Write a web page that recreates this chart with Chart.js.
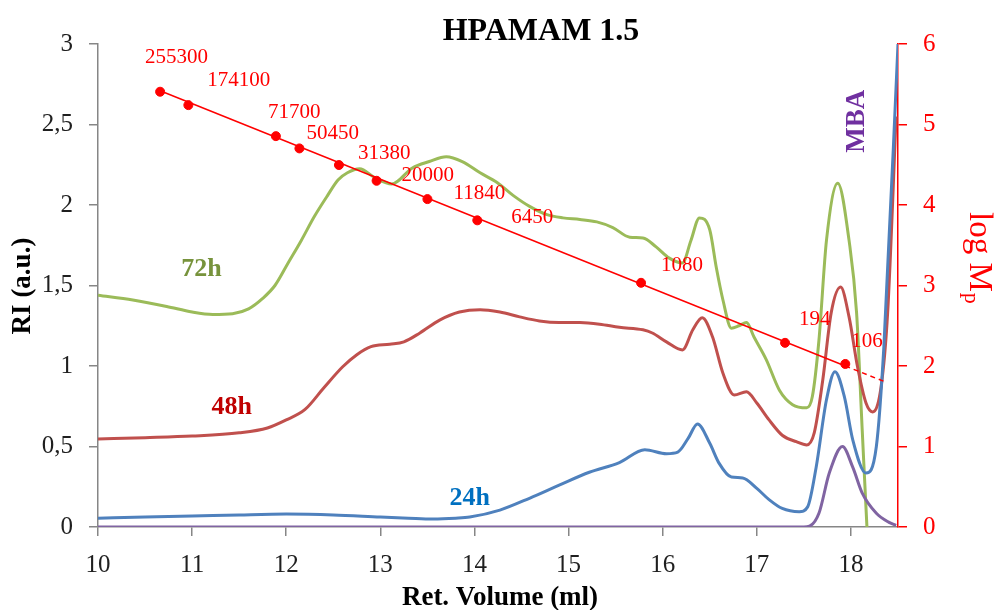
<!DOCTYPE html>
<html>
<head>
<meta charset="utf-8">
<script src="https://cdn.jsdelivr.net/npm/chart.js@4"></script>
<style>
    body { margin: 0; background: #fff; }
    #wrap { width: 998px; height: 610px; }
</style>
</head>
<body>
<div id="wrap"><canvas id="gpc-chart" width="998" height="610"></canvas></div>
<script>
// Retention volumes (ml) and RI signal for each reaction time
var vol72 = [10.00, 10.37, 10.73, 11.00, 11.22, 11.43, 11.60, 11.75, 11.88, 12.02, 12.16, 12.30, 12.44, 12.55, 12.65, 12.78, 12.94, 13.12, 13.34, 13.52, 13.70, 13.87, 14.06, 14.24, 14.41, 14.59, 14.77, 14.94, 15.12, 15.30, 15.47, 15.65, 15.79, 15.93, 16.07, 16.21, 16.30, 16.39, 16.50, 16.57, 16.64, 16.73, 16.81, 16.89, 16.97, 17.10, 17.24, 17.38, 17.53, 17.59, 17.66, 17.74, 17.86, 17.98, 18.06, 18.12, 18.17, 18.20];
var ri72 = [1.44, 1.41, 1.37, 1.335, 1.32, 1.325, 1.355, 1.42, 1.50, 1.64, 1.78, 1.93, 2.06, 2.155, 2.20, 2.225, 2.17, 2.13, 2.23, 2.27, 2.30, 2.27, 2.20, 2.14, 2.06, 1.99, 1.94, 1.92, 1.91, 1.895, 1.86, 1.80, 1.795, 1.74, 1.67, 1.64, 1.78, 1.92, 1.845, 1.61, 1.41, 1.235, 1.25, 1.27, 1.18, 1.04, 0.85, 0.76, 0.74, 0.81, 1.16, 1.78, 2.135, 1.78, 1.33, 0.60, 0.0, -0.3];

var vol48 = [10.00, 10.50, 11.00, 11.50, 11.80, 12.00, 12.20, 12.40, 12.60, 12.75, 12.90, 13.10, 13.25, 13.42, 13.63, 13.84, 14.06, 14.27, 14.48, 14.69, 14.90, 15.12, 15.33, 15.54, 15.79, 15.89, 16.04, 16.21, 16.32, 16.42, 16.53, 16.64, 16.76, 16.89, 17.00, 17.13, 17.27, 17.42, 17.53, 17.61, 17.70, 17.79, 17.89, 17.98, 18.07, 18.16, 18.23, 18.32, 18.39, 18.48];
var ri48 = [0.547, 0.555, 0.565, 0.585, 0.615, 0.665, 0.73, 0.865, 0.995, 1.07, 1.12, 1.135, 1.15, 1.205, 1.285, 1.335, 1.35, 1.335, 1.305, 1.28, 1.27, 1.27, 1.26, 1.24, 1.225, 1.205, 1.15, 1.10, 1.225, 1.30, 1.18, 0.955, 0.82, 0.84, 0.77, 0.665, 0.57, 0.53, 0.51, 0.585, 0.91, 1.33, 1.49, 1.305, 0.995, 0.77, 0.715, 0.87, 1.33, 2.55];

var vol24 = [10.00, 10.50, 11.00, 11.50, 12.00, 12.50, 13.00, 13.30, 13.56, 13.80, 13.95, 14.27, 14.59, 14.90, 15.22, 15.54, 15.81, 16.04, 16.16, 16.27, 16.37, 16.50, 16.60, 16.73, 16.85, 17.00, 17.13, 17.27, 17.45, 17.54, 17.63, 17.74, 17.83, 17.93, 18.02, 18.16, 18.27, 18.35, 18.50];
var ri24 = [0.055, 0.062, 0.068, 0.075, 0.08, 0.075, 0.062, 0.055, 0.05, 0.055, 0.062, 0.105, 0.18, 0.26, 0.34, 0.40, 0.48, 0.455, 0.465, 0.55, 0.64, 0.52, 0.395, 0.31, 0.305, 0.24, 0.17, 0.115, 0.095, 0.125, 0.37, 0.79, 0.965, 0.81, 0.54, 0.335, 0.50, 1.12, 3.0];

var volMBA = [10.00, 17.50, 17.56, 17.66, 17.77, 17.91, 18.02, 18.12, 18.27, 18.40, 18.48];
var riMBA = [0, 0, 0.005, 0.085, 0.335, 0.50, 0.37, 0.21, 0.085, 0.03, 0.01];

// Calibration standards: retention volume and peak molar mass
var calVolume = [10.66, 10.96, 11.89, 12.14, 12.56, 12.96, 13.50, 14.03, 15.77, 17.30, 17.94];
var calMass = [255300, 174100, 71700, 50450, 31380, 20000, 11840, 6450, 1080, 194, 106];

// Calibration trend line (log Mp), last piece is the extrapolation
var fitVolume = [10.66, 17.94, 18.37];
var fitLogM = [5.42, 2.00, 1.80];

// Axis ticks
var volTicks = [10, 11, 12, 13, 14, 15, 16, 17, 18];
var riTicks = [0, 0.5, 1, 1.5, 2, 2.5, 3];
var logTicks = [0, 1, 2, 3, 4, 5, 6];

// label offsets (px) for the molar mass tags, relative to their points
var tagShift = [[-15, -34], [19, -25], [-8, -24], [7, -15], [19, -12], [25, -5], [26, -6], [34, -3], [20, -17], [14, -23], [6, -22]];

var curveTags = [
    { text: '72h', x: 11.10, y: 1.60, color: '#77933C' },
    { text: '48h', x: 11.42, y: 0.745, color: '#C00000' },
    { text: '24h', x: 13.95, y: 0.18, color: '#0070C0' },
];

function pairs(xs, ys) {
    return xs.map(function (v, i) { return { x: v, y: ys[i] }; });
}

var serif = '"Liberation Serif", "Times New Roman", serif';

var textPlugin = {
    id: 'gpcText',
    afterDatasetsDraw: function (chart) {
        var ctx = chart.ctx;
        var x = chart.scales.x, y = chart.scales.y, y2 = chart.scales.y2;
        ctx.save();

        ctx.fillStyle = '#000';
        ctx.textAlign = 'center';
        ctx.textBaseline = 'alphabetic';
        ctx.font = 'bold 32px ' + serif;
        ctx.fillText('HPAMAM 1.5', 541, 40);

        ctx.font = 'bold 27px ' + serif;
        ctx.fillText('Ret. Volume (ml)', 500, 605);

        ctx.save();
        ctx.translate(30, 286);
        ctx.rotate(-Math.PI / 2);
        ctx.fillText('RI (a.u.)', 0, 0);
        ctx.restore();

        // log Mp title, reads top to bottom
        ctx.save();
        ctx.fillStyle = '#FF0000';
        ctx.translate(970, 212);
        ctx.rotate(Math.PI / 2);
        ctx.textAlign = 'left';
        ctx.font = '33px ' + serif;
        ctx.fillText('log M', 0, 0);
        var w = ctx.measureText('log M').width;
        ctx.font = '22px ' + serif;
        ctx.fillText('p', w + 1, 5);
        ctx.restore();

        // curve names
        ctx.font = 'bold 26px ' + serif;
        ctx.textBaseline = 'middle';
        curveTags.forEach(function (t) {
            ctx.fillStyle = t.color;
            ctx.fillText(t.text, x.getPixelForValue(t.x), y.getPixelForValue(t.y));
        });
        ctx.save();
        ctx.fillStyle = '#7030A0';
        ctx.font = 'bold 27px ' + serif;
        ctx.translate(x.getPixelForValue(18.07), y.getPixelForValue(2.52));
        ctx.rotate(-Math.PI / 2);
        ctx.fillText('MBA', 0, 0);
        ctx.restore();

        // molar mass of each standard
        ctx.fillStyle = '#FF0000';
        ctx.font = '21px ' + serif;
        ctx.textAlign = 'left';
        calMass.forEach(function (m, i) {
            var px = x.getPixelForValue(calVolume[i]);
            var py = y2.getPixelForValue(Math.log10(m));
            ctx.fillText(String(m), px + tagShift[i][0], py + tagShift[i][1]);
        });

        ctx.restore();
    },
};

var tickFont = { family: serif, size: 25 };

var ctx = document.getElementById('gpc-chart').getContext('2d');
var gpcChart = new Chart(ctx, {
    type: 'line',
    data: {
        datasets: [
            {
                label: 'calibration',
                type: 'scatter',
                data: calVolume.map(function (v, i) { return { x: v, y: Math.log10(calMass[i]) }; }),
                yAxisID: 'y2',
                backgroundColor: '#FF0000',
                borderColor: '#FF0000',
                pointRadius: 4.5,
                order: 0,
            },
            {
                label: 'fit',
                data: pairs(fitVolume, fitLogM),
                yAxisID: 'y2',
                borderColor: '#FF0000',
                borderWidth: 1.5,
                pointRadius: 0,
                segment: {
                    borderDash: function (c) { return c.p0DataIndex === 1 ? [5, 4] : undefined; },
                },
                order: 1,
            },
            {
                label: 'MBA',
                data: pairs(volMBA, riMBA),
                borderColor: '#8064A2',
                borderWidth: 3,
                pointRadius: 0,
                cubicInterpolationMode: 'monotone',
                order: 2,
            },
            {
                label: '24h',
                data: pairs(vol24, ri24),
                borderColor: '#4F81BD',
                borderWidth: 3,
                pointRadius: 0,
                cubicInterpolationMode: 'monotone',
                order: 3,
            },
            {
                label: '48h',
                data: pairs(vol48, ri48),
                borderColor: '#C0504D',
                borderWidth: 3,
                pointRadius: 0,
                cubicInterpolationMode: 'monotone',
                order: 4,
            },
            {
                label: '72h',
                data: pairs(vol72, ri72),
                borderColor: '#9BBB59',
                borderWidth: 3,
                pointRadius: 0,
                cubicInterpolationMode: 'monotone',
                order: 5,
            },
        ],
    },
    options: {
        responsive: false,
        animation: false,
        layout: { padding: { top: 44 } },
        plugins: {
            legend: { display: false },
            tooltip: { enabled: false },
        },
        scales: {
            x: {
                type: 'linear',
                min: 10,
                max: 18.5,
                afterBuildTicks: function (axis) { axis.ticks = volTicks.map(function (v) { return { value: v }; }); },
                afterFit: function (axis) { axis.height = 83; },
                ticks: { font: tickFont, color: '#1f1f1f', padding: 14, maxRotation: 0 },
                grid: { drawOnChartArea: false, tickLength: 9, color: '#868686', lineWidth: 1.5 },
                border: { color: '#868686', width: 1.5 },
            },
            y: {
                min: 0,
                max: 3,
                afterBuildTicks: function (axis) { axis.ticks = riTicks.map(function (v) { return { value: v }; }); },
                afterFit: function (axis) { axis.width = 98; },
                ticks: {
                    font: tickFont,
                    color: '#1f1f1f',
                    padding: 16,
                    callback: function (v) { return String(v).replace('.', ','); },
                },
                grid: { drawOnChartArea: false, tickLength: 9, color: '#868686', lineWidth: 1.5 },
                border: { color: '#868686', width: 1.5 },
            },
            y2: {
                position: 'right',
                min: 0,
                max: 6,
                afterBuildTicks: function (axis) { axis.ticks = logTicks.map(function (v) { return { value: v }; }); },
                afterFit: function (axis) { axis.width = 100; },
                ticks: { font: tickFont, color: '#FF0000', padding: 16 },
                grid: { drawOnChartArea: false, tickLength: 9, color: '#FF0000', lineWidth: 1.5 },
                border: { color: '#FF0000', width: 1.5 },
            },
        },
    },
    plugins: [textPlugin],
});
</script>
</body>
</html>
